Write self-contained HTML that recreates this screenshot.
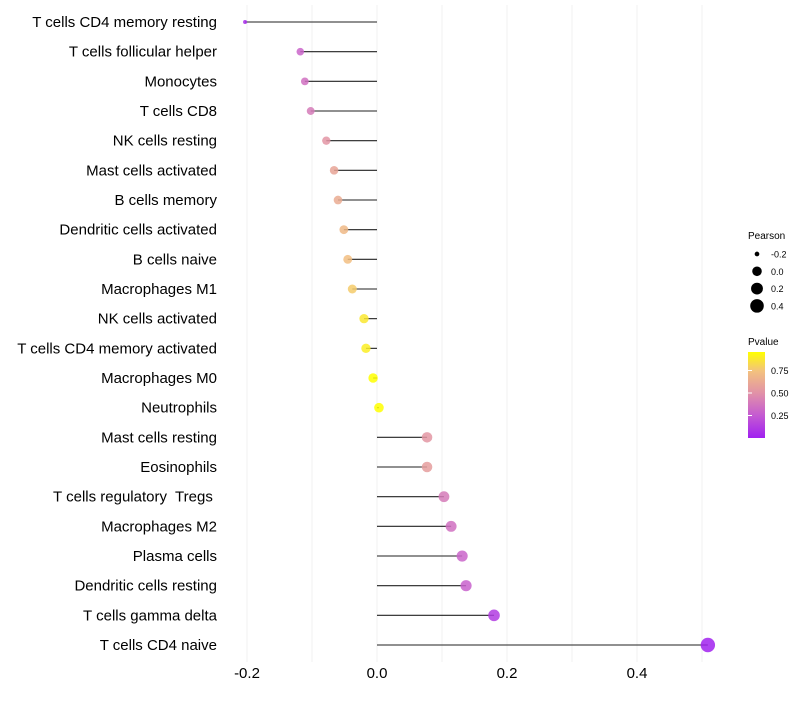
<!DOCTYPE html>
<html><head><meta charset="utf-8"><style>
body{margin:0;background:#fff;font-family:"Liberation Sans",sans-serif;}
svg text{font-family:"Liberation Sans",sans-serif;white-space:pre;}
</style></head><body>
<svg id="chart" width="800" height="700" xmlns="http://www.w3.org/2000/svg">
<defs><linearGradient id="pg" x1="0" y1="1" x2="0" y2="0">
<stop offset="0" stop-color="#A020F0"/><stop offset="0.26" stop-color="#C45AD2"/><stop offset="0.52" stop-color="#E191A8"/><stop offset="0.78" stop-color="#F3C27E"/><stop offset="1" stop-color="#FFFF00"/></linearGradient></defs>
<g id="grid"></g><g id="marks"></g><g id="ylabels"></g><g id="xlabels"></g>
<g>
<text x="748" y="239" font-size="10">Pearson</text>
<g id="sizeleg"></g>
<text x="748" y="345" font-size="10">Pvalue</text>
<rect x="748" y="352" width="17" height="86" fill="url(#pg)"/>
<g id="colleg"></g>
</g>
</svg>
<script>
const categories=["T cells CD4 memory resting","T cells follicular helper","Monocytes","T cells CD8","NK cells resting","Mast cells activated","B cells memory","Dendritic cells activated","B cells naive","Macrophages M1","NK cells activated","T cells CD4 memory activated","Macrophages M0","Neutrophils","Mast cells resting","Eosinophils","T cells regulatory  Tregs ","Macrophages M2","Plasma cells","Dendritic cells resting","T cells gamma delta","T cells CD4 naive"];
const pearson=[-0.203,-0.118,-0.111,-0.102,-0.078,-0.066,-0.060,-0.051,-0.045,-0.038,-0.020,-0.017,-0.006,0.003,0.077,0.077,0.103,0.114,0.131,0.137,0.180,0.509];
const pvalue=[0.05,0.30,0.35,0.40,0.52,0.60,0.63,0.70,0.73,0.78,0.88,0.90,0.96,0.99,0.53,0.56,0.40,0.35,0.30,0.28,0.12,0.01];
const xTicks=[-0.2,0.0,0.2,0.4];
const xTickLabels=["-0.2","0.0","0.2","0.4"];
const sizeLegend=[-0.2,0.0,0.2,0.4];
const colLegend=[0.25,0.5,0.75];
const NS="http://www.w3.org/2000/svg";
const X=v=>377+v*650;
const Y=i=>22+i*29.667;
const R=v=>2+5.2*Math.sqrt(Math.max(0,(v+0.203)/0.712));
const stops=[[0,[160,32,240]],[0.26,[196,90,210]],[0.52,[225,145,168]],[0.78,[243,194,126]],[1,[255,255,0]]];
function col(p){p=Math.min(0.96,Math.max(0,p))/0.96;for(let k=1;k<stops.length;k++){if(p<=stops[k][0]){const a=stops[k-1],b=stops[k],t=(p-a[0])/(b[0]-a[0]);return "rgb("+a[1].map((c,j)=>Math.round(c+(b[1][j]-c)*t)).join(",")+")";}}return "rgb(255,255,0)";}
function mk(t,a,p){const e=document.createElementNS(NS,t);for(const k in a)e.setAttribute(k,a[k]);(p||document.getElementById("marks")).appendChild(e);return e;}
const grid=document.getElementById("grid");
for(let v=-0.2;v<=0.5;v+=0.1){const l=mk("line",{x1:X(v),x2:X(v),y1:5,y2:662,stroke:"#f0f0f0","stroke-width":1},grid);

}
const xl=document.getElementById("xlabels");
xTicks.forEach((v,i)=>{const t=mk("text",{x:X(v),y:678,"font-size":"15","text-anchor":"middle",fill:"#000"},xl);t.textContent=xTickLabels[i];

});
const yl=document.getElementById("ylabels");
categories.forEach((c,i)=>{
const t=mk("text",{x:217,y:Y(i)+5,"font-size":"15","text-anchor":"end",fill:"#000"},yl);t.textContent=c;


const ln=mk("line",{x1:X(0),x2:X(pearson[i]),y1:Y(i),y2:Y(i),stroke:"#222","stroke-width":1.1});


const pt=mk("circle",{cx:X(pearson[i]),cy:Y(i),r:R(pearson[i]),fill:col(pvalue[i]),"fill-opacity":0.85});

});
const sl=document.getElementById("sizeleg");
sizeLegend.forEach((v,i)=>{const y=254+i*17.3;
const c=mk("circle",{cx:757,cy:y,r:R(v),fill:"#000"},sl);


const t=mk("text",{x:771,y:y+3.5,"font-size":"9"},sl);t.textContent=v.toFixed(1);

});
const cl=document.getElementById("colleg");
colLegend.forEach(v=>{const y=438-v*90;
const tk=mk("line",{x1:748,x2:752,y1:y,y2:y,stroke:"#fff"},cl);


const t=mk("text",{x:771,y:y+3.5,"font-size":"9"},cl);t.textContent=v.toFixed(2);

});
</script>
</body></html>
